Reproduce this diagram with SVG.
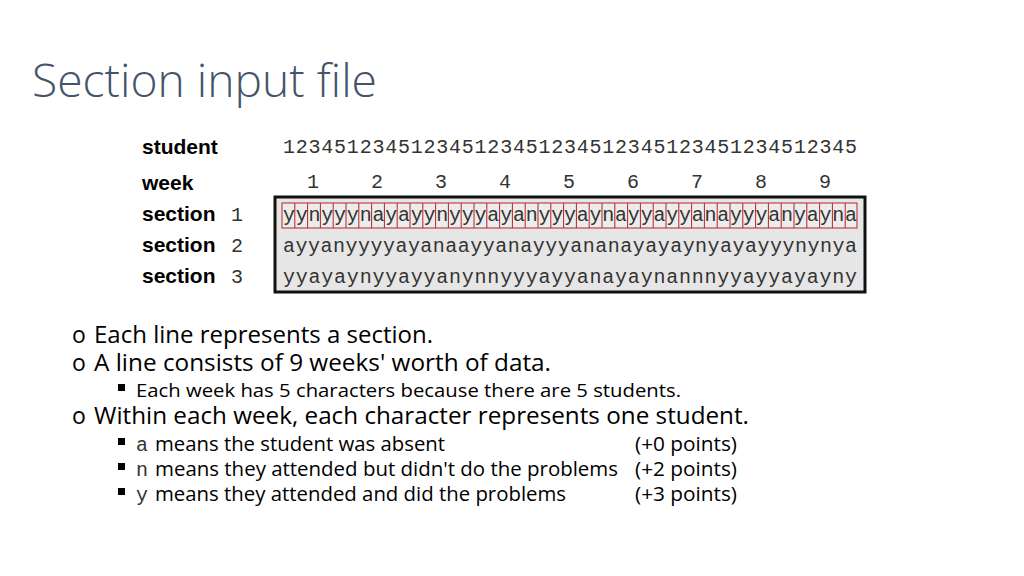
<svg xmlns="http://www.w3.org/2000/svg" width="1024" height="576" viewBox="0 0 1024 576">
<style>
.t{font-family:"Open Sans","Liberation Sans",sans-serif;fill:#000}
.b{font-family:"Liberation Sans",sans-serif;font-weight:bold;font-size:21px}
.m{font-family:"Liberation Mono","Courier New",monospace;font-size:20px;fill:#333}
.bx{fill:#ececec;stroke:#b22;stroke-width:1}
</style>
<rect width="1024" height="576" fill="#fff"/>
<text x="32" y="97" font-family="Open Sans,Liberation Sans,sans-serif" font-size="46" font-weight="300" fill="#44546a" textLength="345" lengthAdjust="spacingAndGlyphs">Section input file</text>
<g id="labels">
<text class="b" x="142" y="154">student</text>
<text class="b" x="142" y="190">week</text>
<text class="b" x="142" y="221">section</text><text class="m" x="231" y="221">1</text>
<text class="b" x="142" y="252">section</text><text class="m" x="231" y="252">2</text>
<text class="b" x="142" y="283">section</text><text class="m" x="231" y="283">3</text>
</g>
<text class="m" x="283" y="153" textLength="574" lengthAdjust="spacing">123451234512345123451234512345123451234512345</text>
<g id="weeks" class="m" text-anchor="middle">
<text x="313" y="188">1</text><text x="377" y="188">2</text><text x="441" y="188">3</text><text x="505" y="188">4</text><text x="569" y="188">5</text><text x="633" y="188">6</text><text x="697" y="188">7</text><text x="761" y="188">8</text><text x="825" y="188">9</text>
</g>
<g id="data">
<rect x="275" y="197" width="590" height="95" fill="#e6e6e6" stroke="#111" stroke-width="3"/>
<g id="cells">
<rect class="bx" x="282" y="203" width="575" height="25"/>
<path d="M294.8 203v25M307.6 203v25M320.4 203v25M333.2 203v25M346 203v25M358.8 203v25M371.6 203v25M384.4 203v25M397.2 203v25M410 203v25M422.8 203v25M435.6 203v25M448.4 203v25M461.2 203v25M474 203v25M486.8 203v25M499.6 203v25M512.4 203v25M525.2 203v25M538 203v25M550.8 203v25M563.6 203v25M576.4 203v25M589.2 203v25M602 203v25M614.8 203v25M627.6 203v25M640.4 203v25M653.2 203v25M666 203v25M678.8 203v25M691.6 203v25M704.4 203v25M717.2 203v25M730 203v25M742.8 203v25M755.6 203v25M768.4 203v25M781.2 203v25M794 203v25M806.8 203v25M819.6 203v25M832.4 203v25M845.2 203v25" stroke="#b22" stroke-width="1"/>
</g>
<text class="m" x="283" y="221" textLength="574" lengthAdjust="spacing">yynyyynayayynyyyayanyyyaynayyayyanayyyanyayna</text>
<text class="m" x="283" y="252" textLength="574" lengthAdjust="spacing">ayyanyyyyayanaayyanayyyananayayaynyayayyynynya</text>
<text class="m" x="283" y="283" textLength="574" lengthAdjust="spacing">yyayaynyyayyanynnyyyayyanayaynannnyyayyayayny</text>
</g>
<g id="bullets" class="t">
<text x="72" y="343" font-size="23">o</text><text x="94" y="343" font-size="23" textLength="339" lengthAdjust="spacingAndGlyphs">Each line represents a section.</text>
<text x="72" y="371" font-size="23">o</text><text x="94" y="371" font-size="23" textLength="457" lengthAdjust="spacingAndGlyphs">A line consists of 9 weeks' worth of data.</text>
<rect x="118" y="384" width="7" height="7" fill="#000"/><text x="136" y="397" font-size="19" textLength="545" lengthAdjust="spacingAndGlyphs">Each week has 5 characters because there are 5 students.</text>
<text x="72" y="424" font-size="23">o</text><text x="94" y="424" font-size="23" textLength="655" lengthAdjust="spacingAndGlyphs">Within each week, each character represents one student.</text>
<rect x="118" y="438" width="7" height="7" fill="#000"/><text class="m" x="136" y="451">a</text><text x="155" y="451" font-size="20" textLength="290" lengthAdjust="spacingAndGlyphs">means the student was absent</text><text x="635" y="451" font-size="20" textLength="102" lengthAdjust="spacingAndGlyphs">(+0 points)</text>
<rect x="118" y="463" width="7" height="7" fill="#000"/><text class="m" x="136" y="476">n</text><text x="155" y="476" font-size="20" textLength="463" lengthAdjust="spacingAndGlyphs">means they attended but didn't do the problems</text><text x="635" y="476" font-size="20" textLength="102" lengthAdjust="spacingAndGlyphs">(+2 points)</text>
<rect x="118" y="488" width="7" height="7" fill="#000"/><text class="m" x="136" y="501">y</text><text x="155" y="501" font-size="20" textLength="411" lengthAdjust="spacingAndGlyphs">means they attended and did the problems</text><text x="635" y="501" font-size="20" textLength="102" lengthAdjust="spacingAndGlyphs">(+3 points)</text>
</g>
</svg>
